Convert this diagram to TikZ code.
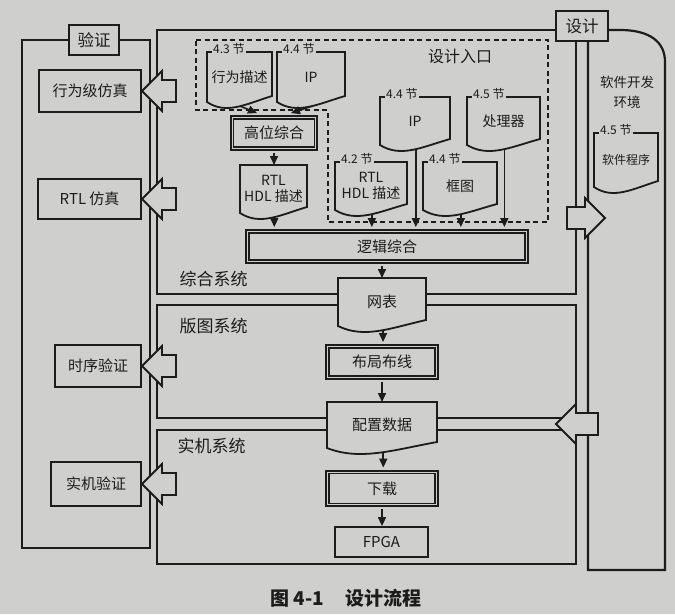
\documentclass[tikz,border=0pt]{standalone}
\usepackage{fontspec}
\setmainfont{Noto Sans CJK SC}
\usepackage{tikz}
\usetikzlibrary{arrows.meta}
\usetikzlibrary{calc}
\definecolor{paper}{RGB}{207,208,205}
\definecolor{ink}{RGB}{28,28,28}
\tikzset{
  panel/.style={draw=ink, line width=2.2pt},
  entryline/.style={draw=ink, line width=1.6pt, dash pattern=on 5pt off 3.5pt},
  tagbox/.style={draw=ink, fill=paper, line width=2.8pt, minimum width=52pt, minimum height=30pt, inner sep=0pt, text=ink, font=\fontsize{16.5}{18}\selectfont},
  testbox/.style={draw=ink, fill=paper, line width=1.8pt, minimum height=42pt, inner sep=0pt, anchor=east, text=ink, font=\fontsize{15}{17}\selectfont},
  stepbox/.style={preaction={draw=ink, line width=7.9pt}, draw=paper, fill=paper, line width=3.9pt,
    postaction={draw=ink, line width=1.1pt}, minimum height=28pt, inner sep=0pt, text=ink, font=\fontsize{15}{17}\selectfont},
  plainbox/.style={draw=ink, fill=paper, line width=1.8pt, minimum height=30pt, inner sep=0pt, text=ink, font=\fontsize{15}{17}\selectfont},
  docbody/.style={inner sep=0pt, outer sep=0pt},
  docline/.style={draw=ink, fill=paper, line width=1.8pt},
  doctext/.style={inner sep=0pt, align=center, text=ink, font=\fontsize{14}{16.5}\selectfont},
  seclabel/.style={fill=paper, inner sep=1pt, anchor=west, text=ink, font=\fontsize{12}{13}\selectfont},
  syslabel/.style={anchor=west, text=ink, font=\fontsize{17}{19}\selectfont},
  flow/.style={draw=ink, line width=1.6pt, -{Triangle[length=9pt,width=8pt]}},
  fatarrow/.style={draw=ink, fill=paper, line width=1.8pt},
  pics/fatleft/.style={code={\draw[fatarrow] (0,0) -- (20,-20) -- (20,-11) -- (#1,-11) -- (#1,11) -- (20,11) -- (20,20) -- cycle;}},
  pics/fatleft/.default=34
}
% document with a wavy foot: name, x, y, width, height, text
\newcommand{\docshape}[6]{%
  \node[docbody, minimum width=#4pt, minimum height=#5pt] (#1) at (#2,#3) {};
  \draw[docline] (#1.south west) -- (#1.north west) -- (#1.north east) -- ($(#1.south east)+(0,-6)$)
    .. controls ($(#1.south west)!0.6!(#1.south east)+(0,2)$) and ($(#1.south west)!0.3!(#1.south east)+(0,13)$) .. (#1.south west)
    node[coordinate, pos=0.45] (#1w) {} -- cycle;
  \node[doctext] (#1t) at (#1) {#6};}
\newcommand{\docsection}[2]{%
  \node[seclabel] (#1s) at ($(#1.north west)+(5,-3)$) {#2};}

\begin{document}
\begin{tikzpicture}[x=1pt, y=-1pt]
  \fill[paper] (0,0) rectangle (675,614);
  \useasboundingbox (0,0) rectangle (675,614);

  \draw[panel] (22,40) rectangle (150,548);
  \draw[panel] (157,30) rectangle (576,294);
  \draw[panel] (157,305) rectangle (576,418);
  \draw[panel] (157,430) rectangle (576,564);
  \draw[panel] (588,30) -- (588,570) -- (665,570) -- (665,62) .. controls (665,42) and (650,30) .. (620,30) -- cycle;
  \draw[entryline] (196,40) -- (548,40) -- (548,222) -- (328,222) -- (328,110) -- (196,110) -- cycle;

  \node[tagbox, minimum width=50pt] (verify) at (94,40) {验证};
  \node[tagbox] (design) at (582,26) {设计};
  \node[syslabel] (synsys) at (176,279) {综合系统};
  \node[syslabel] (layoutsys) at (176,326) {版图系统};
  \node[syslabel] (boardsys) at (174,446) {实机系统};
  \node[text=ink, font=\fontsize{16}{18}\selectfont] (entrylbl) at (460,56) {设计入口};
  \node[text=ink, align=center, font=\fontsize{13.5}{20}\selectfont] (softenv) at (627,92) {软件开发\\环境};

  \node[testbox, minimum width=102pt] (behsim) at (142,91) {行为级仿真};
  \node[testbox, minimum width=103pt, minimum height=40pt] (rtlsim) at (142,199) {RTL 仿真};
  \node[testbox, minimum width=86pt] (timing) at (142,366) {时序验证};
  \node[testbox, minimum width=90pt, minimum height=44pt] (board) at (142,484) {实机验证};

  \docshape{behdesc}{239.5}{77}{65}{50}{行为描述}
  \docsection{behdesc}{4.3 节}
  \docshape{ipup}{311}{77}{68}{50}{IP}
  \docsection{ipup}{4.4 节}
  \docshape{rtlup}{273.5}{189}{67}{48}{RTL\\HDL 描述}
  \docshape{iplow}{415}{121}{70}{48}{IP}
  \docsection{iplow}{4.4 节}
  \docshape{cpu}{503.5}{121}{73}{48}{处理器}
  \docsection{cpu}{4.5 节}
  \docshape{rtllow}{371}{186}{72}{48}{RTL\\HDL 描述}
  \docsection{rtllow}{4.2 节}
  \docshape{block}{460}{186}{74}{48}{框图}
  \docsection{block}{4.4 节}
  \docshape{netlist}{382}{302}{88}{48}{\fontsize{15}{17}\selectfont 网表}
  \docshape{config}{382}{425}{110}{46}{\fontsize{15}{17}\selectfont 配置数据}
  \docshape{swprog}{626}{160}{64}{54}{\fontsize{12}{14}\selectfont 软件程序}
  \docsection{swprog}{4.5 节}

  \node[stepbox, minimum width=81pt] (hls) at (274,133) {高位综合};
  \node[stepbox, minimum width=276pt, minimum height=27pt] (logsyn) at (387,246.5) {逻辑综合};
  \node[stepbox, minimum width=106pt] (pnr) at (382,362) {布局布线};
  \node[stepbox, minimum width=106pt, minimum height=30pt] (download) at (382,488.5) {下载};
  \node[plainbox, minimum width=93pt] (fpga) at (381.5,542) {FPGA};

  \draw[flow] (behdescw) -- ([xshift=-17pt,yshift=4pt]hls.north);
  \draw[flow] (ipupw) -- ([xshift=17pt,yshift=4pt]hls.north);
  \draw[flow] ([yshift=-4pt]hls.south) -- (hls.south |- rtlup.north);
  \foreach \n in {rtlup,rtllow,iplow,block,cpu}
    \draw[flow] (\n w) -- ([yshift=4pt]\n w |- logsyn.north);
  \draw[flow] ([yshift=-4pt]netlist.north |- logsyn.south) -- (netlist.north);
  \draw[flow] (netlistw) -- ([yshift=4pt]netlistw |- pnr.north);
  \draw[flow] ([yshift=-4pt]pnr.south) -- (pnr.south |- config.north);
  \draw[flow] (configw) -- ([yshift=4pt]configw |- download.north);
  \draw[flow] ([yshift=-4pt]download.south) -- (download.south |- fpga.north);

  \pic at (behsim.east) {fatleft};
  \pic at (rtlsim.east) {fatleft};
  \pic at (timing.east) {fatleft};
  \pic at (board.east) {fatleft};
  \pic[rotate=180] at (605,218) {fatleft=38};
  \pic at (556,424) {fatleft=42};

  \node[text=ink, font=\bfseries\fontsize{19}{21}\selectfont] (caption) at (346,598) {图 4-1\hspace{22pt}设计流程};
\end{tikzpicture}
\end{document}
